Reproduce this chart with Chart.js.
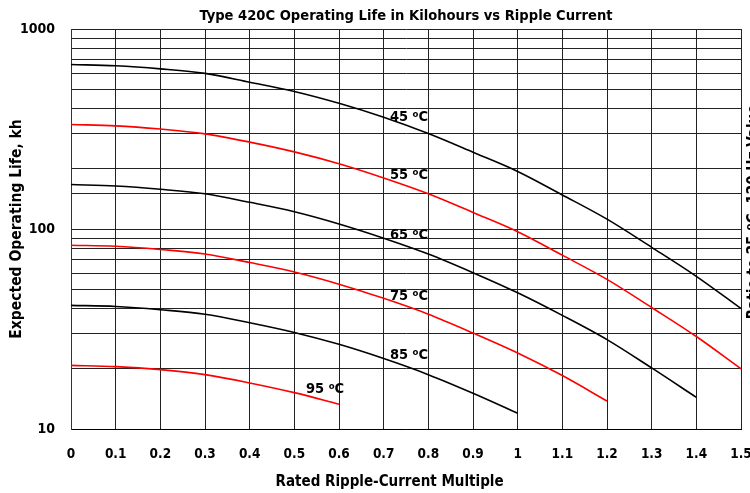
<!DOCTYPE html>
<html>
<head>
<meta charset="utf-8">
<script src="https://cdn.jsdelivr.net/npm/chart.js@4.4.0/dist/chart.umd.min.js"></script>
<style>
  html, body { margin: 0; padding: 0; background: #fff; }
  canvas { display: block; }
</style>
</head>
<body>
<canvas id="lifeChart" width="750" height="493"></canvas>
<script>
// ripple current multiple, 0 .. 1.5
const multiples = [0, 0.1, 0.2, 0.3, 0.4, 0.5, 0.6, 0.7, 0.8, 0.9, 1.0, 1.1, 1.2, 1.3, 1.4, 1.5];

// expected life in kilohours
const life45 = [665, 655, 632, 600, 542, 487, 425, 362, 300, 242, 194, 148, 112, 81, 58, 40];
const life55 = [333, 328, 316, 299, 272, 243, 212, 180, 150, 121, 97, 74, 56, 40.5, 29, 20];
const life65 = [167, 164, 158, 150, 136, 122, 106, 90, 75, 60.5, 48, 37, 28, 20.2, 14.4];
const life75 = [83, 82, 79, 75, 68, 61, 53, 45, 37.5, 30.2, 24, 18.5, 13.8];
const life85 = [41.5, 41, 39.5, 37.5, 34, 30.4, 26.5, 22.5, 18.7, 15.1, 12];
const life95 = [20.8, 20.5, 19.8, 18.7, 17, 15.2, 13.3];

const tempLabels = ['45', '55', '65', '75', '85', '95'];
const labelAtX = [0.714, 0.714, 0.714, 0.714, 0.714, 0.526];
const labelAtY = [363, 186, 93, 46, 23.4, 15.8];

const FONT = "'DejaVu Sans Condensed', 'Liberation Sans Narrow', 'Open Sans', sans-serif";

function pts(vals) {
    return vals.map((v, i) => ({ x: multiples[i], y: v }));
}

function curve(label, vals, color) {
    return {
        label: label,
        data: pts(vals),
        borderColor: color,
        borderWidth: 1.6,
        pointRadius: 0,
        fill: false,
        cubicInterpolationMode: 'monotone'
    };
}

// temperature tags + cut-off right axis title
const annotate = {
    id: 'annotate',
    afterDatasetsDraw(chart) {
        const ctx = chart.ctx;
        const xs = chart.scales.x, ys = chart.scales.y;
        ctx.save();
        ctx.fillStyle = '#000';
        ctx.textBaseline = 'middle';
        tempLabels.forEach((t, i) => {
            let px = xs.getPixelForValue(labelAtX[i]);
            const py = ys.getPixelForValue(labelAtY[i]);
            ctx.font = 'bold 14.5px ' + FONT;
            ctx.fillText(t + ' ', px, py);
            px += ctx.measureText(t + ' ').width;
            ctx.font = 'bold 9.5px ' + FONT;
            ctx.fillText('o', px, py - 3);
            px += ctx.measureText('o').width;
            ctx.font = 'bold 14.5px ' + FONT;
            ctx.fillText('C', px, py);
        });
        // right-hand title, runs off the canvas edge
        ctx.translate(758, 212);
        ctx.rotate(-Math.PI / 2);
        ctx.textAlign = 'center';
        ctx.textBaseline = 'alphabetic';
        ctx.font = 'bold 15px ' + FONT;
        ctx.fillText('Ratio to 25 \u00BAC, 120 Hz Value', 0, 0);
        ctx.restore();
    }
};

new Chart(document.getElementById('lifeChart'), {
    type: 'line',
    data: {
        datasets: [
            curve('45 °C', life45, '#000000'),
            curve('55 °C', life55, '#ff0000'),
            curve('65 °C', life65, '#000000'),
            curve('75 °C', life75, '#ff0000'),
            curve('85 °C', life85, '#000000'),
            curve('95 °C', life95, '#ff0000')
        ]
    },
    options: {
        responsive: false,
        animation: false,
        devicePixelRatio: 1,
        layout: { padding: { left: 0, right: 9, top: 0, bottom: 0 } },
        plugins: {
            legend: { display: false },
            tooltip: { enabled: false },
            title: {
                display: true,
                fullSize: false,
                text: 'Type 420C Operating Life in Kilohours vs Ripple Current',
                color: '#000',
                font: { family: FONT, size: 14.6, weight: 'bold', lineHeight: 1.2 },
                padding: { top: 7.5, bottom: 4 }
            }
        },
        scales: {
            x: {
                type: 'linear',
                min: 0,
                max: 1.5,
                grid: { color: '#222', lineWidth: 1, drawTicks: false },
                border: { color: '#000' },
                ticks: {
                    stepSize: 0.1,
                    padding: 17,
                    color: '#000',
                    font: { family: FONT, size: 13.5, weight: 'bold' },
                    maxRotation: 0,
                    autoSkip: false,
                    callback: v => String(Number(v.toFixed(1)))
                },
                title: {
                    display: true,
                    // trailing spaces nudge the centred title left, as in the original
                    text: 'Rated Ripple-Current Multiple       ',
                    color: '#000',
                    font: { family: FONT, size: 15, weight: 'bold' },
                    padding: { top: 0, bottom: 2 }
                },
                afterFit: s => { s.height = 64; s.paddingLeft = 0; s.paddingRight = 0; }
            },
            y: {
                type: 'logarithmic',
                min: 10,
                max: 1000,
                grid: { color: '#222', lineWidth: 1, drawTicks: false },
                border: { color: '#333' },
                ticks: {
                    padding: 16,
                    color: '#000',
                    autoSkip: false,
                    font: { family: FONT, size: 14, weight: 'bold' },
                    callback: v => ([10, 100, 1000].includes(v) ? String(v) : '')
                },
                title: {
                    display: true,
                    text: 'Expected Operating Life, kh',
                    color: '#000',
                    font: { family: FONT, size: 15.5, weight: 'bold' },
                    padding: { top: 8, bottom: 0 }
                },
                afterFit: s => { s.width = 71; s.paddingTop = 0; s.paddingBottom = 0; }
            }
        }
    },
    plugins: [annotate]
});
</script>
</body>
</html>
